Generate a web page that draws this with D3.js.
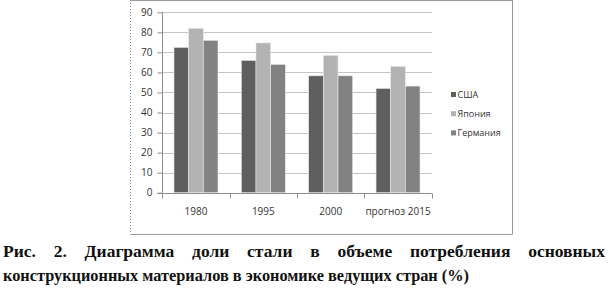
<!DOCTYPE html>
<html>
<head>
<meta charset="utf-8">
<script src="https://cdn.jsdelivr.net/npm/d3@7"></script>
<style>
  body { margin: 0; background: #fff; }
  svg { display: block; }
</style>
</head>
<body>
<div id="chart"></div>
<script>
'use strict';

var categories = ['1980', '1995', '2000', 'прогноз 2015'];
var seriesNames = ['США', 'Япония', 'Германия'];
var usa = [72.5, 66, 58.3, 52];
var japan = [82, 74.7, 68.5, 63];
var germany = [76, 64, 58.3, 53.2];
var yTicks = [0, 10, 20, 30, 40, 50, 60, 70, 80, 90];
var colors = ['#5f5f5f', '#b3b3b3', '#828282'];
var captionLine1 = 'Рис. 2. Диаграмма доли стали в объеме потребления основных';
var captionLine2 = 'конструкционных материалов в экономике ведущих стран (%)';

var scope = {
  width: 610,
  height: 294,
  plot: { left: 162.3, right: 431.7, top: 12.3, bottom: 192.7 }
};

function appendSvg(scope) {
  return d3.select('#chart').append('svg')
    .attr('width', scope.width)
    .attr('height', scope.height);
}

function appendFrame(scope) {
  var g = scope.svg.append('g');
  g.append('line').attr('x1', 130.5).attr('x2', 130.5).attr('y1', 0).attr('y2', 234.5)
    .attr('stroke', '#8a8a8a').attr('stroke-dasharray', '1,2');
  g.append('line').attr('x1', 512.5).attr('x2', 512.5).attr('y1', 0).attr('y2', 234.5)
    .attr('stroke', '#9a9a9a');
  g.append('line').attr('x1', 130.5).attr('x2', 512.5).attr('y1', 234.5).attr('y2', 234.5)
    .attr('stroke', '#9a9a9a');
  g.append('line').attr('x1', 130.5).attr('x2', 512.5).attr('y1', 0.5).attr('y2', 0.5)
    .attr('stroke', '#9a9a9a');
}

function appendAxis(scope) {
  var p = scope.plot;

  // gridlines
  scope.svg.append('g')
    .selectAll('line')
    .data(yTicks.slice(1))
    .enter().append('line')
    .attr('x1', p.left)
    .attr('x2', p.right)
    .attr('y1', function(d) { return Math.round(scope.y(d)) + 0.5; })
    .attr('y2', function(d) { return Math.round(scope.y(d)) + 0.5; })
    .attr('stroke', '#c4c4c4');

  var yAxis = scope.svg.append('g')
    .attr('transform', 'translate(' + (Math.round(p.left) + 0.5) + ',0)')
    .call(d3.axisLeft(scope.y).tickValues(yTicks).tickSize(5).tickPadding(5));
  yAxis.selectAll('line').attr('stroke', '#8c8c8c');
  yAxis.select('.domain').attr('stroke', '#8c8c8c').attr('d', 'M0,' + p.top + 'V' + p.bottom);
  yAxis.selectAll('text')
    .attr('font-family', '"Open Sans", "Liberation Sans", sans-serif')
    .attr('font-size', 10)
    .attr('fill', '#333');

  // x axis
  var xg = scope.svg.append('g')
    .attr('transform', 'translate(0,' + (Math.round(p.bottom) + 0.5) + ')');
  xg.append('line').attr('x1', p.left - 5).attr('x2', p.right).attr('stroke', '#8c8c8c');
  var step = scope.x0.step();
  var bounds = d3.range(categories.length + 1).map(function(i) { return p.left + i * step; });
  xg.selectAll('line.tick')
    .data(bounds)
    .enter().append('line')
    .attr('class', 'tick')
    .attr('x1', function(d) { return Math.round(d) + 0.5; })
    .attr('x2', function(d) { return Math.round(d) + 0.5; })
    .attr('y1', 0).attr('y2', 5)
    .attr('stroke', '#8c8c8c');
  xg.selectAll('text')
    .data(categories)
    .enter().append('text')
    .attr('x', function(d) { return scope.x0(d) + scope.x0.bandwidth() / 2; })
    .attr('y', 21)
    .attr('text-anchor', 'middle')
    .attr('font-family', '"Open Sans", "Liberation Sans", sans-serif')
    .attr('font-size', 10)
    .attr('fill', '#333')
    .text(function(d) { return d; });
}

function appendRect(scope) {
  var series = [usa, japan, germany];
  scope.svg.append('g')
    .selectAll('g')
    .data(categories)
    .enter().append('g')
    .attr('transform', function(d) { return 'translate(' + scope.x0(d) + ',0)'; })
    .selectAll('rect')
    .data(function(d, i) {
      return seriesNames.map(function(key, k) {
        return { key: key, value: series[k][i] };
      });
    })
    .enter().append('rect')
    .attr('x', function(d) { return scope.x1(d.key); })
    .attr('y', function(d) { return scope.y(d.value); })
    .attr('width', scope.x1.bandwidth())
    .attr('height', function(d) { return scope.y(0) - scope.y(d.value); })
    .attr('fill', function(d) { return scope.colors(d.key); })
    .attr('stroke', '#e8e8e8')
    .attr('stroke-width', 0.6);
}

function appendLegend(scope) {
  var legend = scope.svg.append('g')
    .attr('font-family', '"Open Sans", "Liberation Sans", sans-serif')
    .attr('font-size', 9)
    .selectAll('g')
    .data(seriesNames)
    .enter().append('g')
    .attr('transform', function(d, i) { return 'translate(451,' + (94.5 + i * 19.2) + ')'; });

  legend.append('rect')
    .attr('x', 0).attr('y', -2.5)
    .attr('width', 5).attr('height', 5)
    .attr('fill', scope.colors);

  legend.append('text')
    .attr('x', 6.5)
    .attr('dy', '0.35em')
    .attr('fill', '#333')
    .text(function(d) { return d; });
}

function appendCaption(scope) {
  var g = scope.svg.append('g')
    .attr('font-family', '"Liberation Serif", "Times New Roman", serif')
    .attr('font-weight', 'bold')
    .attr('font-size', 17.5)
    .attr('fill', '#111');

  // first line is justified between 3 and 605
  var words = captionLine1.split(' ');
  var nodes = words.map(function(w) {
    return g.append('text').attr('y', 257).text(w);
  });
  var widths = nodes.map(function(n) { return n.node().getComputedTextLength(); });
  var total = d3.sum(widths);
  var gap = (605 - 3 - total) / (words.length - 1);
  var x = 3;
  nodes.forEach(function(n, i) {
    n.attr('x', x);
    x += widths[i] + gap;
  });

  g.append('text')
    .attr('x', 3)
    .attr('y', 281)
    .attr('font-size', 17)
    .attr('textLength', 466)
    .attr('lengthAdjust', 'spacingAndGlyphs')
    .text(captionLine2);
}

scope.x0 = d3.scaleBand()
  .domain(categories)
  .range([scope.plot.left, scope.plot.right])
  .paddingInner(0.347)
  .paddingOuter(0.1735);

scope.x1 = d3.scaleBand()
  .domain(seriesNames)
  .range([0, scope.x0.bandwidth()]);

scope.y = d3.scaleLinear()
  .domain([0, 90])
  .range([scope.plot.bottom, scope.plot.top]);

scope.colors = d3.scaleOrdinal().domain(seriesNames).range(colors);

scope.svg = appendSvg(scope);
appendFrame(scope);
appendAxis(scope);
appendRect(scope);
appendLegend(scope);
appendCaption(scope);
</script>
</body>
</html>
